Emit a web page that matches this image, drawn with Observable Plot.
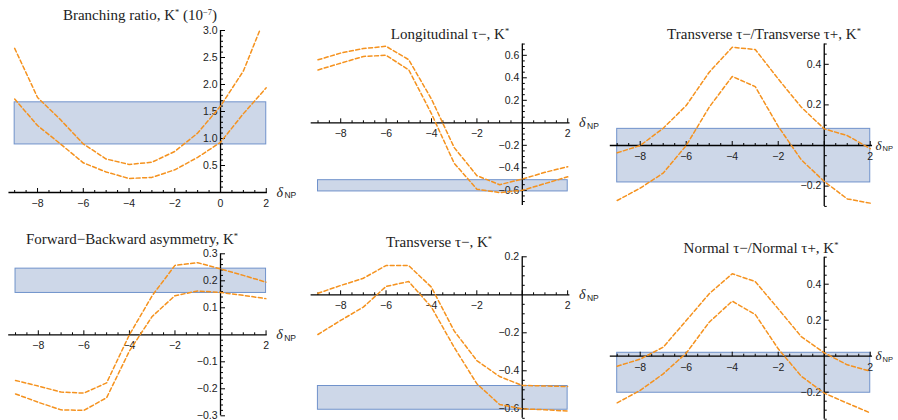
<!DOCTYPE html>
<html><head><meta charset="utf-8">
<script src="https://cdn.jsdelivr.net/npm/d3@7"></script>
<script src="https://cdn.jsdelivr.net/npm/@observablehq/plot@0.6"></script>
<style>
body{margin:0;background:#fff;}
#wrap{position:relative;width:898px;height:420px;overflow:hidden;background:#fff;}
.panel{position:absolute;}
.title{position:absolute;font-family:"Liberation Serif",serif;font-size:15px;color:#222;white-space:nowrap;transform:translate(-50%,-50%);line-height:1;}
.title sup{font-size:8.5px;vertical-align:5px;line-height:0;}
</style></head><body><div id="wrap"></div>
<script>
// δNP grid
const deltaNP = [-9, -8, -7, -6, -5, -4, -3, -2, -1, 0, 1, 2];

// Branching ratio, K* (10^-7)
const brUpper = [2.67, 1.76, 1.35, 0.90, 0.62, 0.52, 0.56, 0.76, 1.10, 1.60, 2.25, 3.30];
const brLower = [1.73, 1.24, 0.90, 0.55, 0.38, 0.26, 0.28, 0.42, 0.65, 0.93, 1.46, 1.94];
const brBand = [0.89, 1.67];

// Longitudinal τ−, K*
const ltUpper = [0.56, 0.62, 0.66, 0.68, 0.56, 0.21, -0.22, -0.47, -0.55, -0.50, -0.44, -0.39];
const ltLower = [0.47, 0.53, 0.59, 0.60, 0.47, 0.08, -0.36, -0.59, -0.62, -0.60, -0.54, -0.48];
const ltBand = [-0.61, -0.51];

// Transverse τ−/Transverse τ+, K*
const trUpper = [-0.036, 0.0, 0.085, 0.197, 0.361, 0.484, 0.473, 0.328, 0.189, 0.082, 0.049, -0.016];
const trLower = [-0.271, -0.21, -0.136, 0.0, 0.189, 0.34, 0.29, 0.094, -0.07, -0.177, -0.263, -0.284];
const trBand = [-0.182, 0.082];

// Forward−Backward asymmetry, K*
const fbUpper = [-0.169, -0.19, -0.212, -0.216, -0.178, 0.0, 0.145, 0.257, 0.267, 0.244, 0.22, 0.195];
const fbLower = [-0.219, -0.25, -0.278, -0.28, -0.233, -0.06, 0.068, 0.145, 0.162, 0.157, 0.146, 0.134];
const fbBand = [0.155, 0.245];

// Transverse τ−, K*
const ttUpper = [0.008, 0.049, 0.087, 0.154, 0.154, 0.04, -0.19, -0.346, -0.43, -0.477, -0.48, -0.483];
const ttLower = [-0.209, -0.135, -0.065, 0.044, 0.07, -0.065, -0.276, -0.468, -0.577, -0.60, -0.605, -0.612];
const ttBand = [-0.605, -0.48];

// Normal τ−/Normal τ+, K*
const nrUpper = [-0.056, -0.016, 0.05, 0.198, 0.347, 0.458, 0.415, 0.263, 0.109, 0.019, -0.048, -0.083];
const nrLower = [-0.259, -0.19, -0.098, 0.017, 0.189, 0.306, 0.232, 0.041, -0.111, -0.205, -0.261, -0.315];
const nrBand = [-0.203, 0.019];

// tick labels
const xTickLabels = ["−8", "−6", "−4", "−2", "2"];
const xTickValues = [-8, -6, -4, -2, 2];
const brYTicks = [0.5, 1.0, 1.5, 2.0, 2.5, 3.0];
const brYLabels = ["0.5", "1.0", "1.5", "2.0", "2.5", "3.0"];
const ltYTicks = [-0.6, -0.4, -0.2, 0.2, 0.4, 0.6];
const ltYLabels = ["−0.6", "−0.4", "−0.2", "0.2", "0.4", "0.6"];
const trYTicks = [-0.2, 0.2, 0.4];
const trYLabels = ["−0.2", "0.2", "0.4"];
const fbYTicks = [-0.3, -0.2, -0.1, 0.1, 0.2, 0.3];
const fbYLabels = ["−0.3", "−0.2", "−0.1", "0.1", "0.2", "0.3"];
const ttYTicks = [-0.6, -0.4, -0.2, 0.2];
const ttYLabels = ["−0.6", "−0.4", "−0.2", "0.2"];
const nrYTicks = [-0.2, 0.2, 0.4];
const nrYLabels = ["−0.2", "0.2", "0.4"];

const titles = [
  "Branching ratio, K<sup>*</sup> (10<sup>−7</sup>)",
  "Longitudinal τ−, K<sup>*</sup>",
  "Transverse τ−/Transverse τ+, K<sup>*</sup>",
  "Forward−Backward asymmetry, K<sup>*</sup>",
  "Transverse τ−, K<sup>*</sup>",
  "Normal τ−/Normal τ+, K<sup>*</sup>"
];

const ORANGE = "#f5921e";
const BANDFILL = "#cdd7e8";
const BANDSTROKE = "#7092cb";
const SANS = "'Liberation Sans', Arial, sans-serif";

const tickUp = {draw(ctx, size) { const l = Math.sqrt(size / Math.PI); ctx.moveTo(0, 0); ctx.lineTo(0, -l); }};
const tickRight = {draw(ctx, size) { const l = Math.sqrt(size / Math.PI); ctx.moveTo(0, 0); ctx.lineTo(l, 0); }};

const panels = [
  {left: 0, top: 0, W: 300, H: 210, up: brUpper, lo: brLower, band: brBand,
   xDom: [-9.25, 2.05], xPx: [8.45, 266.9], yDom: [0, 3], yPx: [192, 30],
   xt: [-8, -6, -4, -2, 0, 2], xl: ["−8", "−6", "−4", "−2", "0", "2"],
   yt: brYTicks, yl: brYLabels, yMinorStep: 0.1, title: titles[0], tx: 140, ty: 15, ddx: 9},
  {left: 300, top: 0, W: 300, H: 210, up: ltUpper, lo: ltLower, band: ltBand,
   xDom: [-9.3, 2.1], xPx: [10.7, 269.5], yDom: [-0.735, 0.7], yPx: [205, 43.55],
   xt: xTickValues, xl: xTickLabels, yt: ltYTicks, yl: ltYLabels, yMinorStep: 0.05, title: titles[1], tx: 150, ty: 34, ddx: 9},
  {left: 600, top: 0, W: 298, H: 210, up: trUpper, lo: trLower, band: trBand,
   xDom: [-9.3, 2.1], xPx: [9.8, 272.05], yDom: [-0.3, 0.5], yPx: [205.9, 43.5],
   xt: xTickValues, xl: xTickLabels, yt: trYTicks, yl: trYLabels, yMinorStep: 0.05, title: titles[2], tx: 164, ty: 34, ddx: 3},
  {left: 0, top: 210, W: 300, H: 210, up: fbUpper, lo: fbLower, band: fbBand,
   xDom: [-9.3, 2.05], xPx: [8.2, 266.7], yDom: [-0.3, 0.3], yPx: [205.3, 43.3],
   xt: xTickValues, xl: xTickLabels, yt: fbYTicks, yl: fbYLabels, yMinorStep: 0.02, title: titles[3], tx: 132, ty: 29, ddx: 9},
  {left: 300, top: 210, W: 300, H: 210, up: ttUpper, lo: ttLower, band: ttBand,
   xDom: [-9.3, 2.1], xPx: [10.6, 269.4], yDom: [-0.65, 0.2], yPx: [207.8, 46.3],
   xt: xTickValues, xl: xTickLabels, yt: ttYTicks, yl: ttYLabels, yMinorStep: 0.05, title: titles[4], tx: 139, ty: 31.7, ddx: 9},
  {left: 600, top: 210, W: 298, H: 210, up: nrUpper, lo: nrLower, band: nrBand,
   xDom: [-9.3, 2.1], xPx: [9.8, 272.05], yDom: [-0.35, 0.55], yPx: [208.7, 46.7],
   xt: xTickValues, xl: xTickLabels, yt: nrYTicks, yl: nrYLabels, yMinorStep: 0.05, title: titles[5], tx: 161, ty: 37.7, ddx: 3}
];

const wrap = document.getElementById("wrap");

for (const p of panels) {
  const curves = [
    ...deltaNP.map((x, i) => ({x, y: p.up[i], s: "up"})),
    ...deltaNP.map((x, i) => ({x, y: p.lo[i], s: "lo"}))
  ];
  const eps = 1e-9;
  const xMinor = d3.range(-9, 2 + eps, 0.5).filter(v => Math.abs(v / 2 - Math.round(v / 2)) > eps);
  const xMajor = d3.range(-8, 2 + eps, 2);
  const yMinorAll = d3.range(Math.ceil(p.yDom[0] / p.yMinorStep - eps) * p.yMinorStep, p.yDom[1] + eps, p.yMinorStep);
  const yMajorSet = p.yt;
  const yMinor = yMinorAll.filter(v => Math.abs(v) > eps && !yMajorSet.some(m => Math.abs(m - v) < eps));
  const small = p.ddx < 5;

  const chart = Plot.plot({
    width: p.W, height: p.H,
    marginLeft: p.xPx[0], marginRight: p.W - p.xPx[1],
    marginTop: p.yPx[1], marginBottom: p.H - p.yPx[0],
    x: {domain: p.xDom, axis: null},
    y: {domain: p.yDom, axis: null},
    style: {background: "transparent", overflow: "visible"},
    marks: [
      Plot.rect([p.band], {x1: () => -9, x2: () => 2, y1: d => d[0], y2: d => d[1],
        fill: BANDFILL, stroke: BANDSTROKE, strokeWidth: 1}),
      Plot.ruleY([0], {x1: p.xDom[0], x2: p.xDom[1], stroke: "#000", strokeWidth: 1.3}),
      Plot.ruleX([0], {y1: p.yDom[0], y2: p.yDom[1], stroke: "#000", strokeWidth: 1.3}),
      Plot.dot(xMajor, {x: d => d, y: () => 0, symbol: tickUp, r: 4.5, stroke: "#000", fill: "none", strokeWidth: 1}),
      Plot.dot(xMinor, {x: d => d, y: () => 0, symbol: tickUp, r: 2.5, stroke: "#000", fill: "none", strokeWidth: 1}),
      Plot.dot(yMajorSet, {x: () => 0, y: d => d, symbol: tickRight, r: 4.5, stroke: "#000", fill: "none", strokeWidth: 1}),
      Plot.dot(yMinor, {x: () => 0, y: d => d, symbol: tickRight, r: 2.5, stroke: "#000", fill: "none", strokeWidth: 1}),
      Plot.text(p.xt, {x: d => d, y: () => 0, text: (d, i) => p.xl[i], dy: 11, fontSize: 10.5, fontFamily: SANS, fill: "#222"}),
      Plot.text(p.yt, {x: () => 0, y: d => d, text: (d, i) => p.yl[i], dx: -3, textAnchor: "end", fontSize: 10.5, fontFamily: SANS, fill: "#222"}),
      Plot.text([0], {x: () => p.xDom[1], y: () => 0, text: () => "δ", dx: p.ddx, textAnchor: "start", fontSize: small ? 13 : 14, fontStyle: "italic", fontFamily: "'Liberation Serif', serif", fill: "#222"}),
      Plot.text([0], {x: () => p.xDom[1], y: () => 0, text: () => "NP", dx: p.ddx + (small ? 7 : 8), dy: 3, textAnchor: "start", fontSize: small ? 7.5 : 8.5, fontFamily: SANS, fill: "#222"}),
      Plot.line(curves, {x: "x", y: "y", z: "s", stroke: ORANGE, strokeWidth: 1.5, strokeDasharray: "4,2.5", clip: true})
    ]
  });
  const div = document.createElement("div");
  div.className = "panel";
  div.style.left = p.left + "px";
  div.style.top = p.top + "px";
  div.appendChild(chart);
  wrap.appendChild(div);

  const t = document.createElement("div");
  t.className = "title";
  t.innerHTML = p.title;
  t.style.left = (p.left + p.tx) + "px";
  t.style.top = (p.top + p.ty) + "px";
  wrap.appendChild(t);
}
</script>
</body></html>
